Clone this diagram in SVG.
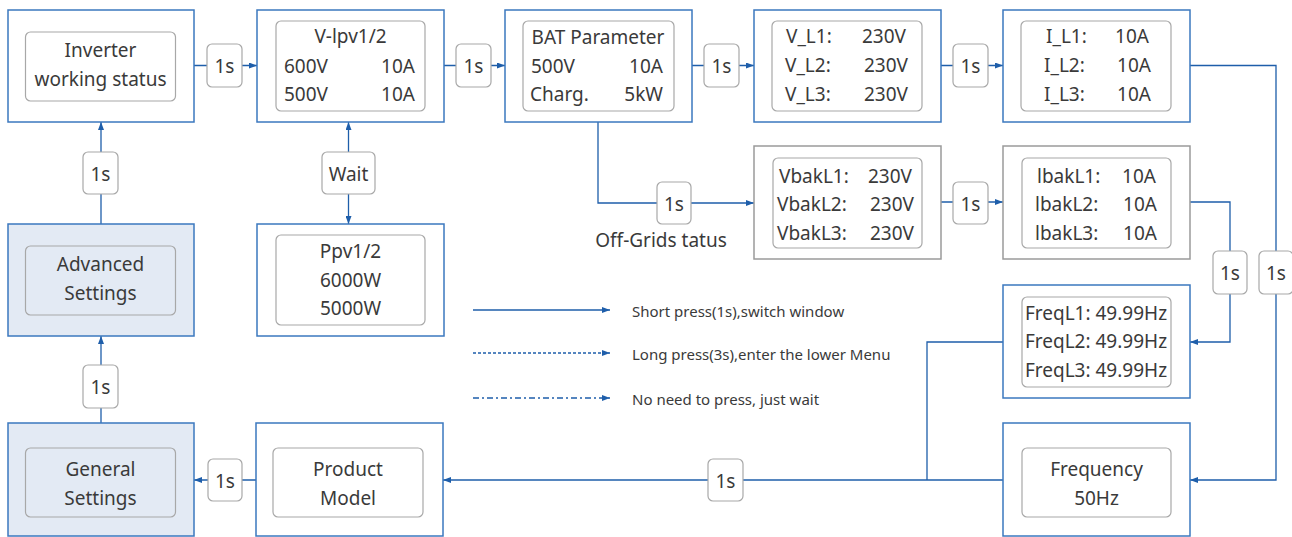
<svg xmlns="http://www.w3.org/2000/svg" width="1292" height="537" viewBox="0 0 1292 537">
<defs>
<style>
.box{fill:#fff;stroke:#3b78bf;stroke-width:1.5}
.gbox{fill:#fff;stroke:#9a9a9a;stroke-width:1.5}
.sbox{fill:#e3eaf4;stroke:#3b78bf;stroke-width:1.5}
.inner{fill:#fff;stroke:#a8a8a8;stroke-width:1.2}
.innerS{fill:#e3eaf4;stroke:#a8a8a8;stroke-width:1.2}
.lbl{fill:#fff;stroke:#a8a8a8;stroke-width:1.2}
.t{font-family:"Noto Sans","Liberation Sans",sans-serif;font-size:19px;fill:#3a3a3a}
.lg{font-family:"Noto Sans","Liberation Sans",sans-serif;font-size:15px;fill:#3a3a3a}
.c{text-anchor:middle}
.e{text-anchor:end}
.conn{fill:none;stroke:#1e5eaa;stroke-width:1.3}
</style>
<marker id="ah" viewBox="0 0 8 6" refX="8" refY="3" markerWidth="8" markerHeight="6" markerUnits="userSpaceOnUse" orient="auto-start-reverse">
<path d="M0,0 L8,3 L0,6 z" fill="#1e5eaa"/>
</marker>
</defs>

<g id="connectors">
<path class="conn" d="M194,65.5 H257" marker-end="url(#ah)"/>
<path class="conn" d="M444,65.5 H505" marker-end="url(#ah)"/>
<path class="conn" d="M692,65.5 H754" marker-end="url(#ah)"/>
<path class="conn" d="M941,65.5 H1003" marker-end="url(#ah)"/>
<path class="conn" d="M1190,65.5 H1276 V480 H1190" marker-end="url(#ah)"/>
<path class="conn" d="M598,122 V203 H754" marker-end="url(#ah)"/>
<path class="conn" d="M941,202 H1003" marker-end="url(#ah)"/>
<path class="conn" d="M1190,202 H1230 V342 H1190" marker-end="url(#ah)"/>
<path class="conn" d="M1003,342 H927 V480"/>
<path class="conn" d="M1003,480 H443" marker-end="url(#ah)"/>
<path class="conn" d="M256,480 H194" marker-end="url(#ah)"/>
<path class="conn" d="M101,224 V122" marker-end="url(#ah)"/>
<path class="conn" d="M101,423 V336" marker-end="url(#ah)"/>
<path class="conn" d="M348.5,122 V224" marker-start="url(#ah)" marker-end="url(#ah)"/>
<path class="conn" d="M473,310 H610" marker-end="url(#ah)"/>
<path class="conn" d="M473,353 H610" stroke-dasharray="3 2" marker-end="url(#ah)"/>
<path class="conn" d="M473,398 H610" stroke-dasharray="6 3 2 3" marker-end="url(#ah)"/>
</g>

<g id="labels">
<rect class="lbl" x="207" y="44" width="35" height="43" rx="5"/><text class="t c" x="224.5" y="73">1s</text>
<rect class="lbl" x="456" y="44" width="35" height="43" rx="5"/><text class="t c" x="473.5" y="73">1s</text>
<rect class="lbl" x="704" y="44" width="35" height="43" rx="5"/><text class="t c" x="721.5" y="73">1s</text>
<rect class="lbl" x="953" y="44" width="35" height="43" rx="5"/><text class="t c" x="970.5" y="73">1s</text>
<rect class="lbl" x="657" y="182" width="34" height="42" rx="5"/><text class="t c" x="674" y="210.5">1s</text>
<rect class="lbl" x="953" y="182" width="35" height="42" rx="5"/><text class="t c" x="970.5" y="210.5">1s</text>
<rect class="lbl" x="1213" y="251" width="34" height="43" rx="5"/><text class="t c" x="1230" y="280">1s</text>
<rect class="lbl" x="1259" y="251" width="34" height="43" rx="5"/><text class="t c" x="1276" y="280">1s</text>
<rect class="lbl" x="708" y="459" width="35" height="42" rx="5"/><text class="t c" x="725.5" y="487.5">1s</text>
<rect class="lbl" x="208" y="459" width="34" height="42" rx="5"/><text class="t c" x="225" y="487.5">1s</text>
<rect class="lbl" x="83" y="152" width="35" height="42" rx="5"/><text class="t c" x="100.5" y="180.5">1s</text>
<rect class="lbl" x="83" y="365" width="35" height="43" rx="5"/><text class="t c" x="100.5" y="394">1s</text>
<rect class="lbl" x="322" y="152" width="53" height="42" rx="5"/><text class="t c" x="348.5" y="180.5">Wait</text>
<text class="t c" x="661" y="247">Off-Grids tatus</text>
</g>

<g id="legend">
<text class="lg" x="632" y="317">Short press(1s),switch window</text>
<text class="lg" x="632" y="360">Long press(3s),enter the lower Menu</text>
<text class="lg" x="632" y="405">No need to press, just wait</text>
</g>

<g id="inverter-status">
<rect class="box" x="8" y="10" width="186" height="112"/>
<rect class="inner" x="25.5" y="32" width="150" height="69" rx="5"/>
<text class="t c" x="100.5" y="57">Inverter</text>
<text class="t c" x="100.5" y="86">working status</text>
</g>

<g id="v-ipv">
<rect class="box" x="257" y="10" width="187" height="112"/>
<rect class="inner" x="276" y="21" width="149" height="90" rx="5"/>
<text class="t c" x="350.5" y="43">V-lpv1/2</text>
<text class="t" x="284" y="73">600V</text><text class="t e" x="415" y="73">10A</text>
<text class="t" x="284" y="101">500V</text><text class="t e" x="415" y="101">10A</text>
</g>

<g id="bat">
<rect class="box" x="505" y="10" width="187" height="112"/>
<rect class="inner" x="523" y="21" width="151" height="90" rx="5"/>
<text class="t c" x="598" y="44">BAT Parameter</text>
<text class="t" x="531" y="73">500V</text><text class="t e" x="663" y="73">10A</text>
<text class="t" x="530" y="101">Charg.</text><text class="t e" x="663" y="101">5kW</text>
</g>

<g id="v-l">
<rect class="box" x="754" y="10" width="187" height="112"/>
<rect class="inner" x="772" y="21" width="150" height="90" rx="5"/>
<text class="t" x="786" y="43">V_L1:</text><text class="t e" x="906" y="43">230V</text>
<text class="t" x="785" y="72">V_L2:</text><text class="t e" x="908" y="72">230V</text>
<text class="t" x="785" y="101">V_L3:</text><text class="t e" x="908" y="101">230V</text>
</g>

<g id="i-l">
<rect class="box" x="1003" y="10" width="187" height="112"/>
<rect class="inner" x="1021" y="21" width="150" height="90" rx="5"/>
<text class="t" x="1046" y="43">I_L1:</text><text class="t e" x="1149" y="43">10A</text>
<text class="t" x="1044" y="72">I_L2:</text><text class="t e" x="1151" y="72">10A</text>
<text class="t" x="1044" y="101">I_L3:</text><text class="t e" x="1151" y="101">10A</text>
</g>

<g id="vbak">
<rect class="gbox" x="754" y="146" width="187" height="113"/>
<rect class="inner" x="773" y="158" width="149" height="90" rx="5"/>
<text class="t" x="779" y="183">VbakL1:</text><text class="t e" x="912" y="183">230V</text>
<text class="t" x="777" y="211">VbakL2:</text><text class="t e" x="914" y="211">230V</text>
<text class="t" x="777" y="240">VbakL3:</text><text class="t e" x="914" y="240">230V</text>
</g>

<g id="ibak">
<rect class="gbox" x="1003" y="146" width="187" height="113"/>
<rect class="inner" x="1022" y="158" width="149" height="90" rx="5"/>
<text class="t" x="1037" y="183">lbakL1:</text><text class="t e" x="1156" y="183">10A</text>
<text class="t" x="1035" y="211">lbakL2:</text><text class="t e" x="1157" y="211">10A</text>
<text class="t" x="1035" y="240">lbakL3:</text><text class="t e" x="1157" y="240">10A</text>
</g>

<g id="freq-l">
<rect class="box" x="1003" y="285" width="187" height="113"/>
<rect class="inner" x="1022" y="297" width="149" height="90" rx="5"/>
<text class="t c" x="1096" y="320">FreqL1: 49.99Hz</text>
<text class="t c" x="1096" y="348">FreqL2: 49.99Hz</text>
<text class="t c" x="1096" y="377">FreqL3: 49.99Hz</text>
</g>

<g id="frequency">
<rect class="box" x="1003" y="423" width="187" height="113"/>
<rect class="inner" x="1022" y="448" width="149" height="69" rx="5"/>
<text class="t c" x="1096.5" y="476">Frequency</text>
<text class="t c" x="1096.5" y="505">50Hz</text>
</g>

<g id="product-model">
<rect class="box" x="256" y="423" width="187" height="113"/>
<rect class="inner" x="273" y="448" width="150" height="69" rx="5"/>
<text class="t c" x="348" y="476">Product</text>
<text class="t c" x="348" y="505">Model</text>
</g>

<g id="general-settings">
<rect class="sbox" x="8" y="423" width="186" height="113"/>
<rect class="innerS" x="25.5" y="448" width="150" height="69" rx="5"/>
<text class="t c" x="100.5" y="476">General</text>
<text class="t c" x="100.5" y="505">Settings</text>
</g>

<g id="advanced-settings">
<rect class="sbox" x="8" y="224" width="186" height="112"/>
<rect class="innerS" x="25.5" y="246" width="150" height="69" rx="5"/>
<text class="t c" x="100.5" y="271">Advanced</text>
<text class="t c" x="100.5" y="300">Settings</text>
</g>

<g id="ppv">
<rect class="box" x="257" y="224" width="187" height="112"/>
<rect class="inner" x="276" y="235" width="149" height="90" rx="5"/>
<text class="t c" x="350.5" y="258">Ppv1/2</text>
<text class="t c" x="350.5" y="287">6000W</text>
<text class="t c" x="350.5" y="315">5000W</text>
</g>
</svg>
